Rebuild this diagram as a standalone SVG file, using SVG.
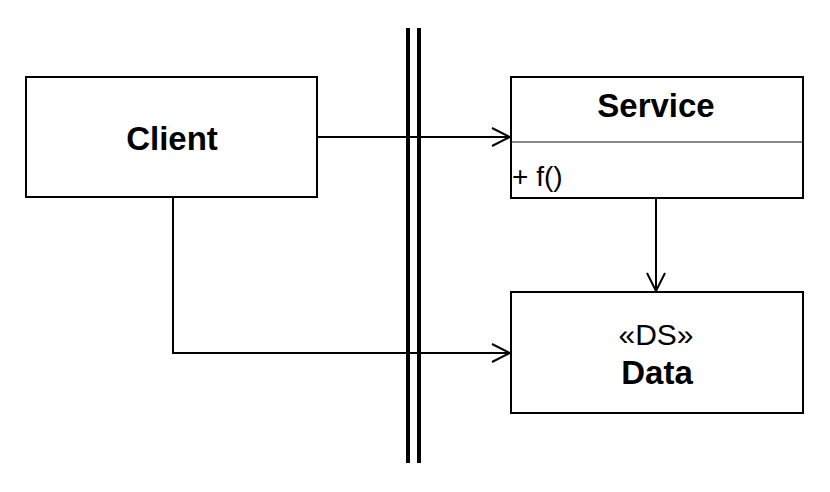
<svg xmlns="http://www.w3.org/2000/svg" width="830" height="492" viewBox="0 0 830 492">
<style>
.box{fill:#fff;stroke:#000;stroke-width:2}
.b{font-family:"Liberation Sans",Arial,sans-serif;font-weight:bold;font-size:33px;text-anchor:middle}
.r{font-family:"Liberation Sans",Arial,sans-serif;font-size:28px}
.c{fill:none;stroke:#000;stroke-width:2}
</style>
<defs>
<marker id="open" viewBox="0 0 20 20" refX="19" refY="10" markerWidth="20" markerHeight="20" markerUnits="userSpaceOnUse" orient="auto">
<path d="M1,1 L19,10 L1,19" fill="none" stroke="#000" stroke-width="2"/>
</marker>
</defs>
<rect width="830" height="492" fill="#fff"/>
<g id="boundary">
<line x1="408" y1="28" x2="408" y2="463" stroke="#000" stroke-width="4"/>
<line x1="419" y1="28" x2="419" y2="463" stroke="#000" stroke-width="4"/>
</g>
<g id="connectors">
<path class="c" d="M317,137 H510" marker-end="url(#open)"/>
<path class="c" d="M173,197 V353 H510" marker-end="url(#open)"/>
<path class="c" d="M656,198 V291" marker-end="url(#open)"/>
</g>
<g id="client">
<rect class="box" x="26" y="77" width="291" height="120"/>
<text class="b" x="172" y="150">Client</text>
</g>
<g id="service">
<rect class="box" x="511" y="77" width="292" height="121"/>
<line x1="512" y1="142" x2="802" y2="142" stroke="#888" stroke-width="2"/>
<text class="b" x="656" y="117">Service</text>
<text class="r" x="512" y="186">+ f()</text>
</g>
<g id="data">
<rect class="box" x="511" y="292" width="292" height="121"/>
<text class="r" x="656" y="345" text-anchor="middle" style="font-size:30px">«DS»</text>
<text class="b" x="657" y="384">Data</text>
</g>
</svg>
